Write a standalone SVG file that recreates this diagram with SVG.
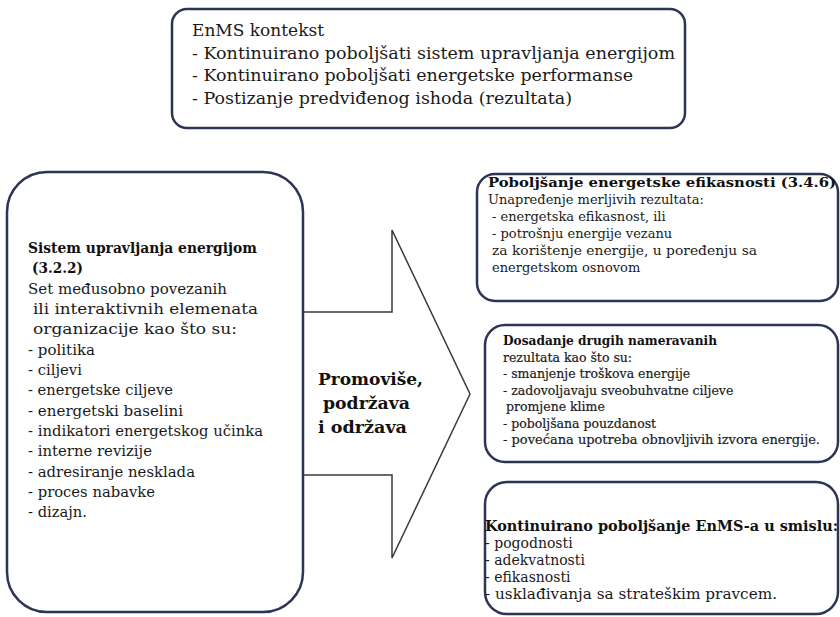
<svg xmlns="http://www.w3.org/2000/svg" width="840" height="617" viewBox="0 0 840 617">
<style>
.box{fill:#ffffff;stroke:#2c3553;stroke-width:2.5}
.t{font-family:"DejaVu Serif","Liberation Serif",serif;fill:#1a1a1a}
.b{font-weight:bold;fill:#111}
.sb{stroke:#222;stroke-width:0.2}
.f16{font-size:16px}.f14{font-size:14px}.f135{font-size:13.5px}.f13{font-size:13px}.f125{font-size:12.5px}.f17{font-size:17px}
.arrow{fill:#ffffff;stroke:#3a3a3a;stroke-width:1.5;stroke-linejoin:miter}
</style>
<rect x="0" y="0" width="840" height="617" fill="#ffffff"/>
<g id="connectors">
<polygon class="arrow" points="303,312 392,312 392,230 470,394 392,558 392,475 303,475"/>
<text class="t b f17" x="318" y="385" textLength="105" lengthAdjust="spacingAndGlyphs">Promoviše,</text>
<text class="t b f17" x="323" y="409" textLength="87" lengthAdjust="spacingAndGlyphs">podržava</text>
<text class="t b f17" x="318" y="433" textLength="89" lengthAdjust="spacingAndGlyphs">i održava</text>
</g>
<g id="n-context">
<rect class="box" x="172" y="9" width="513" height="119" rx="15"/>
<text class="t f16" x="192" y="36" textLength="132" lengthAdjust="spacingAndGlyphs">EnMS kontekst</text>
<text class="t f16" x="192" y="59" textLength="483" lengthAdjust="spacingAndGlyphs">- Kontinuirano poboljšati sistem upravljanja energijom</text>
<text class="t f16" x="192" y="81" textLength="441" lengthAdjust="spacingAndGlyphs">- Kontinuirano poboljšati energetske performanse</text>
<text class="t f16" x="192" y="104" textLength="380" lengthAdjust="spacingAndGlyphs">- Postizanje predviđenog ishoda (rezultata)</text>
</g>
<g id="n-ems">
<rect class="box" x="7" y="172" width="296" height="440" rx="40"/>
<text class="t b f14" x="28" y="253" textLength="229" lengthAdjust="spacingAndGlyphs">Sistem upravljanja energijom</text>
<text class="t b f14" x="32" y="273" textLength="51" lengthAdjust="spacingAndGlyphs">(3.2.2)</text>
<text class="t f14" x="28" y="294" textLength="199" lengthAdjust="spacingAndGlyphs">Set međusobno povezanih</text>
<text class="t f14" x="33" y="314" textLength="225" lengthAdjust="spacingAndGlyphs">ili interaktivnih elemenata</text>
<text class="t f14" x="33" y="334" textLength="204" lengthAdjust="spacingAndGlyphs">organizacije kao što su:</text>
<text class="t f14" x="28" y="355" textLength="67" lengthAdjust="spacingAndGlyphs">- politika</text>
<text class="t f14" x="28" y="375" textLength="54" lengthAdjust="spacingAndGlyphs">- ciljevi</text>
<text class="t f14" x="28" y="395" textLength="145" lengthAdjust="spacingAndGlyphs">- energetske ciljeve</text>
<text class="t f14" x="28" y="416" textLength="155" lengthAdjust="spacingAndGlyphs">- energetski baselini</text>
<text class="t f14" x="28" y="436" textLength="235" lengthAdjust="spacingAndGlyphs">- indikatori energetskog učinka</text>
<text class="t f14" x="28" y="456" textLength="124" lengthAdjust="spacingAndGlyphs">- interne revizije</text>
<text class="t f14" x="28" y="477" textLength="167" lengthAdjust="spacingAndGlyphs">- adresiranje nesklada</text>
<text class="t f14" x="28" y="497" textLength="127" lengthAdjust="spacingAndGlyphs">- proces nabavke</text>
<text class="t f14" x="28" y="517" textLength="59" lengthAdjust="spacingAndGlyphs">- dizajn.</text>
</g>
<g id="n-efficiency">
<rect class="box" x="477" y="174" width="361" height="127" rx="18"/>
<text class="t b f135" x="488" y="187" textLength="348" lengthAdjust="spacingAndGlyphs">Poboljšanje energetske efikasnosti (3.4.6)</text>
<text class="t f13" x="488" y="204">Unapređenje merljivih rezultata:</text>
<text class="t f13" x="492" y="221">- energetska efikasnost, ili</text>
<text class="t f13" x="492" y="238">- potrošnju energije vezanu</text>
<text class="t f13" x="492" y="255" textLength="265" lengthAdjust="spacingAndGlyphs">za korištenje energije, u poređenju sa</text>
<text class="t f13" x="492" y="272">energetskom osnovom</text>
</g>
<g id="n-other">
<rect class="box" x="485" y="325" width="353" height="137" rx="20"/>
<text class="t b f125" x="503" y="345" textLength="214" lengthAdjust="spacingAndGlyphs">Dosadanje drugih nameravanih</text>
<text class="t f125 sb" x="503" y="362">rezultata kao što su:</text>
<text class="t f125 sb" x="503" y="378">- smanjenje troškova energije</text>
<text class="t f125 sb" x="503" y="395">- zadovoljavaju sveobuhvatne ciljeve</text>
<text class="t f125 sb" x="506" y="411">promjene klime</text>
<text class="t f125 sb" x="503" y="428">- poboljšana pouzdanost</text>
<text class="t f125 sb" x="503" y="444" textLength="317" lengthAdjust="spacingAndGlyphs">- povećana upotreba obnovljivih izvora energije.</text>
</g>
<g id="n-continual">
<rect class="box" x="485" y="482" width="353" height="132" rx="22"/>
<text class="t b f14" x="485" y="531" textLength="353" lengthAdjust="spacingAndGlyphs">Kontinuirano poboljšanje EnMS-a u smislu:</text>
<text class="t f14" x="485" y="548">- pogodnosti</text>
<text class="t f14" x="485" y="565">- adekvatnosti</text>
<text class="t f14" x="485" y="582">- efikasnosti</text>
<text class="t f14" x="485" y="599" textLength="292" lengthAdjust="spacingAndGlyphs">- usklađivanja sa strateškim pravcem.</text>
</g>
</svg>
